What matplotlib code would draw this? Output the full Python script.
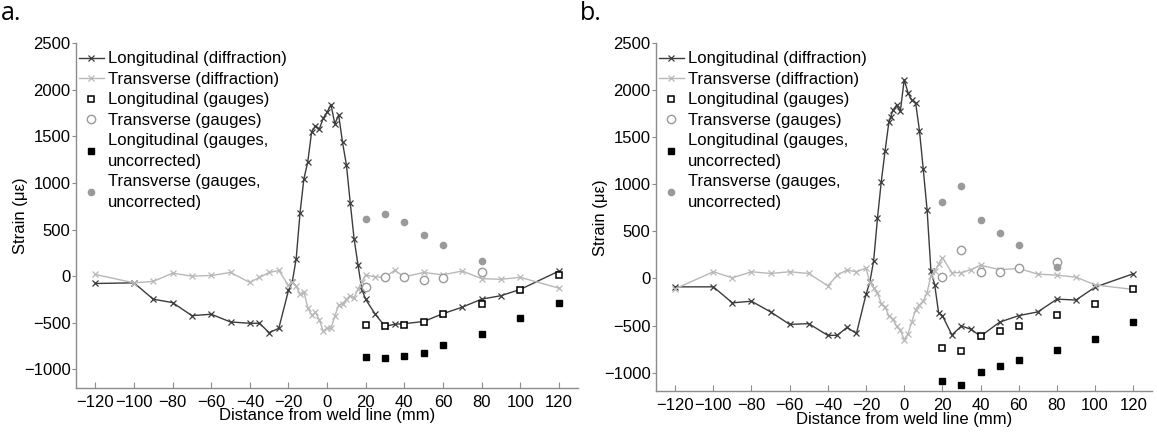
import numpy as np
import matplotlib
matplotlib.use("Agg")
import matplotlib.pyplot as plt

plt.rcParams['font.family'] = ['Liberation Sans', 'DejaVu Sans']
plt.rcParams['font.size'] = 12

# ---- panel a data ----
a_long_x = [-120, -100, -90, -80, -70, -60, -50, -40, -35, -30, -25,
            -20, -18, -16, -14, -12, -10, -8, -6, -4, -2, 0, 2, 4, 6, 8, 10,
            12, 14, 16, 18, 20, 25, 30, 35, 40, 50, 60, 70, 80, 90, 100, 120]
a_long_y = [-79, -72, -248, -284, -424, -409, -492, -506, -506, -607, -560,
            -154, -60, 187, 680, 1045, 1225, 1550, 1610, 1580, 1695, 1760, 1842, 1635, 1730, 1435, 1195,
            786, 398, 122, -144, -250, -411, -539, -516, -510, -487, -403, -333, -247, -210, -143, 54]

a_trans_x = [-120, -100, -90, -80, -70, -60, -50, -40, -35, -30, -25,
             -20, -18, -16, -14, -12, -10, -8, -6, -4, -2, 0, 2, 4, 6, 8, 10,
             12, 14, 16, 18, 20, 25, 30, 35, 40, 50, 60, 70, 80, 90, 100, 120]
a_trans_y = [18, -72, -57, 32, 0, 7, 39, -68, -14, 39, 61,
             -100, -60, -110, -190, -170, -340, -420, -390, -470, -590, -560, -560, -430, -310, -300, -250,
             -210, -230, -140, -60, 12, -9, -12, 62, -7, 39, 14, 55, -27, -34, -13, -129]

gauge_x = [20, 30, 40, 50, 60, 80, 100, 120]
a_long_g = [-528, -540, -522, -492, -404, -304, -150, 15]
a_long_unc = [-870, -883, -861, -829, -740, -620, -448, -285]
trans_gauge_x = [20, 30, 40, 50, 60, 80]
a_trans_g = [-112, -6, -7, -43, -25, 43]
a_trans_unc = [616, 668, 578, 439, 339, 160]

# ---- panel b data ----
b_long_x = [-120, -100, -90, -80, -70, -60, -50, -40, -35, -30, -25,
            -20, -18, -16, -14, -12, -10, -8, -7, -6, -4, -2, 0, 2, 4, 6, 8, 10,
            12, 14, 16, 18, 20, 25, 30, 35, 40, 50, 60, 70, 80, 90, 100, 120]
b_long_y = [-89, -89, -259, -242, -355, -488, -480, -605, -604, -520, -584,
            -170, -38, 188, 640, 1030, 1358, 1665, 1720, 1785, 1840, 1780, 2112, 1973, 1893, 1865, 1570, 1158,
            728, 81, -70, -362, -395, -600, -505, -540, -614, -464, -395, -355, -220, -229, -92, 50]

b_trans_x = [-120, -100, -90, -80, -70, -60, -50, -40, -35, -30, -25,
             -20, -18, -16, -14, -12, -10, -8, -6, -4, -2, 0, 2, 4, 6, 8, 10,
             12, 14, 16, 18, 20, 25, 30, 35, 40, 50, 60, 70, 80, 90, 100, 120]
b_trans_y = [-110, 71, 7, 71, 53, 71, 53, -78, 36, 89, 71,
             110, -40, -100, -150, -270, -300, -400, -430, -510, -550, -650, -590, -460, -330, -280, -240,
             -150, 30, 80, 150, 222, 62, 62, 94, 140, 94, 106, 46, 35, 14, -68, -117]

b_long_g = [-734, -770, -614, -553, -500, -387, -273, -117]
b_long_unc = [-1093, -1135, -990, -926, -869, -756, -638, -465]
b_trans_g = [17, 301, 64, 74, 106, 177]
b_trans_unc = [808, 985, 620, 482, 354, 124]

labels = ['Longitudinal (diffraction)', 'Transverse (diffraction)',
          'Longitudinal (gauges)', 'Transverse (gauges)',
          'Longitudinal (gauges,\nuncorrected)', 'Transverse (gauges,\nuncorrected)']

dark = '#3c3c3c'
light = '#b8b8b8'
mid = '#9a9a9a'
spine_col = '#8c8c8c'


def draw_panel(ax, lx, ly, tx, ty, lg, lu, tg, tu):
    ax.plot(lx, ly, color=dark, lw=1.0, marker='x', ms=5, mew=0.9, label=labels[0])
    ax.plot(tx, ty, color=light, lw=1.0, marker='x', ms=5, mew=0.9, label=labels[1])
    ax.plot(gauge_x, lg, ls='none', marker='s', ms=5, mfc='white', mec='black', mew=1.1, label=labels[2])
    ax.plot(trans_gauge_x, tg, ls='none', marker='o', ms=6, mfc='white', mec=mid, mew=1.0, label=labels[3])
    ax.plot(gauge_x, lu, ls='none', marker='s', ms=4.5, color='black', label=labels[4])
    ax.plot(trans_gauge_x, tu, ls='none', marker='o', ms=4.5, color=mid, label=labels[5])

    ax.set_xlim(-130, 130)
    ax.set_ylim(-1200, 2500)
    ax.set_xticks(np.arange(-120, 121, 20))
    ax.set_yticks(np.arange(-1000, 2501, 500))
    ax.spines['top'].set_visible(False)
    ax.spines['right'].set_visible(False)
    for s in ['left', 'bottom']:
        ax.spines[s].set_color(spine_col)
        ax.spines[s].set_linewidth(1.0)
    ax.tick_params(axis='x', direction='in', length=4, color=spine_col, pad=5)
    ax.tick_params(axis='y', direction='out', length=3, color=spine_col, pad=1)
    ax.set_xlabel('Distance from weld line (mm)', labelpad=-1)
    ax.set_ylabel('Strain (\u03bc\u03b5)', labelpad=-3)

    leg = ax.legend(loc='upper left', bbox_to_anchor=(0.0, 0.986), frameon=False,
                    borderaxespad=0.0, borderpad=0.2, handlelength=1.45, handletextpad=0.25,
                    labelspacing=0.33)
    for t in leg.get_texts():
        t.set_linespacing(1.45)


fig = plt.figure(figsize=(11.57, 4.32), dpi=100)
ax_a = fig.add_axes([0.0657, 0.102, 0.434, 0.798])
ax_b = fig.add_axes([0.567, 0.094, 0.429, 0.806])

draw_panel(ax_a, a_long_x, a_long_y, a_trans_x, a_trans_y, a_long_g, a_long_unc, a_trans_g, a_trans_unc)
draw_panel(ax_b, b_long_x, b_long_y, b_trans_x, b_trans_y, b_long_g, b_long_unc, b_trans_g, b_trans_unc)

fig.text(0.001, 0.968, 'a.', fontsize=18, va='center', ha='left', family=['Open Sans', 'DejaVu Sans'])
fig.text(0.501, 0.968, 'b.', fontsize=18, va='center', ha='left', family=['Open Sans', 'DejaVu Sans'])

fig.savefig('out.png', dpi=100)
